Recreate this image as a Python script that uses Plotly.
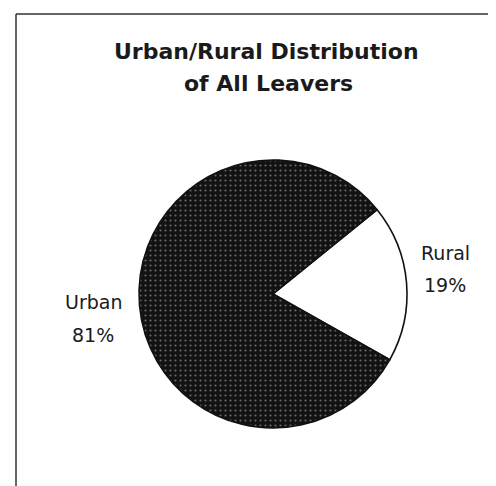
import plotly.graph_objects as go

labels = ["Rural", "Urban"]
values = [19, 81]
pct_text = ["19%", "81%"]
title_lines = ["Urban/Rural Distribution", "of All Leavers"]

# page body has an 8px margin; work in reference pixel coords and shift
OFF = 8
W, H = 496 - OFF, 486 - OFF


def px(x):
    return (x - OFF) / W


def py(y):
    return 1 - (y - OFF) / H


cx, cy, r = 273, 294, 134

fig = go.Figure()
fig.add_trace(go.Pie(
    labels=labels, values=values, sort=False, direction="clockwise",
    rotation=51,
    textinfo="none", hoverinfo="label+percent", showlegend=False,
    marker=dict(colors=["#ffffff", "#121212"],
                line=dict(color="#111111", width=1.6),
                pattern=dict(shape=["", "."], fgcolor="#6a6a6a", bgcolor="#121212",
                             size=5, solidity=0.15)),
    domain=dict(x=[px(cx - r), px(cx + r)], y=[py(cy + r), py(cy - r)]),
))

font = "DejaVu Sans, Arial, sans-serif"
ann = []
ann.append(dict(text="<b>%s</b>" % title_lines[0], x=px(266), y=py(51)))
ann.append(dict(text="<b>%s</b>" % title_lines[1], x=px(268), y=py(84)))
for a in ann:
    a.update(font=dict(size=22, color="#1a1a1a", family=font))
lab = [
    dict(text=labels[0], x=px(445), y=py(253)),
    dict(text=pct_text[0], x=px(445), y=py(285)),
    dict(text=labels[1], x=px(93), y=py(302)),
    dict(text=pct_text[1], x=px(93), y=py(335)),
]
for a in lab:
    a.update(font=dict(size=19, color="#1a1a1a", family=font))
for a in ann + lab:
    a.update(xref="paper", yref="paper", xanchor="center", yanchor="middle", showarrow=False)

fig.update_layout(
    width=W, height=H, margin=dict(l=0, r=0, t=0, b=0),
    paper_bgcolor="white", plot_bgcolor="white",
    annotations=ann + lab,
    shapes=[
        dict(type="line", xref="paper", yref="paper", x0=px(16), x1=1, y0=py(14), y1=py(14),
             line=dict(color="#333", width=1.5)),
        dict(type="line", xref="paper", yref="paper", x0=px(16), x1=px(16), y0=py(14), y1=0,
             line=dict(color="#333", width=1.5)),
    ],
)
fig.write_html("out.html")
